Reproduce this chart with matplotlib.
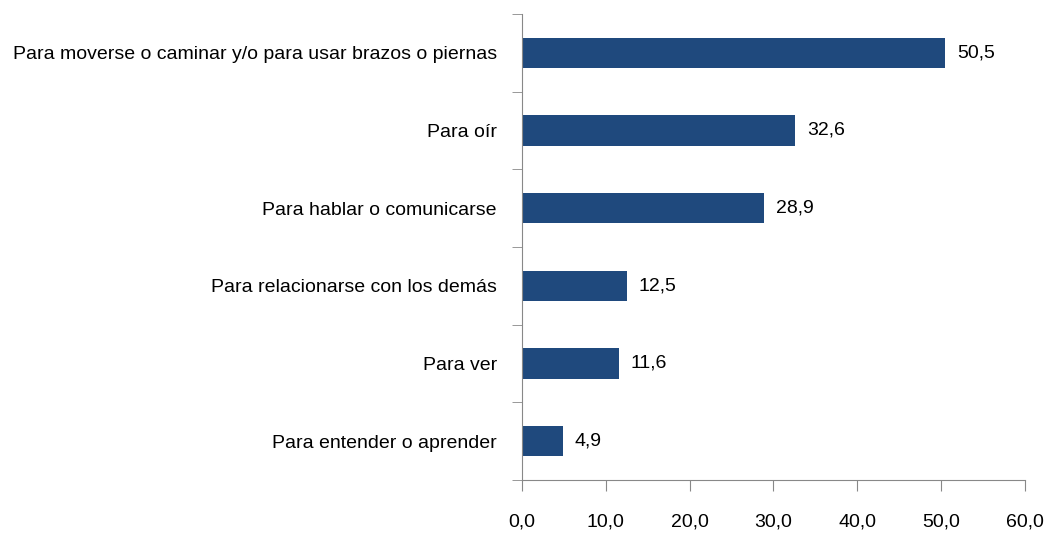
import numpy as np
import matplotlib.pyplot as plt

plt.rcParams['font.family'] = ['Liberation Sans', 'DejaVu Sans']

categorias = ['Para moverse o caminar y/o para usar brazos o piernas',
              'Para oír',
              'Para hablar o comunicarse',
              'Para relacionarse con los demás',
              'Para ver',
              'Para entender o aprender']
valores = [50.5, 32.6, 28.9, 12.5, 11.6, 4.9]
ticks_x = [0, 10, 20, 30, 40, 50, 60]

fig = plt.figure(figsize=(10.48, 5.36), dpi=100)
ax = fig.add_axes([0.498, 0.1045, 0.48, 0.8695])

y = np.arange(len(categorias))[::-1]
ax.barh(y, valores, height=0.39, color='#1F497D')

for yi, v in zip(y, valores):
    ax.text(v + 1.4, yi, f'{v:.1f}'.replace('.', ','), va='center', ha='left',
            fontsize=14, color='black')

ax.set_xlim(0, 60)
ax.set_ylim(-0.5, len(categorias) - 0.5)
ax.set_xticks(ticks_x)
ax.set_xticklabels([f'{t:.1f}'.replace('.', ',') for t in ticks_x])
ax.set_yticks(y)
ax.set_yticklabels(categorias)
ax.set_yticks(np.arange(-0.5, len(categorias), 1), minor=True)

for s in ['top', 'right']:
    ax.spines[s].set_visible(False)
for s in ['left', 'bottom']:
    ax.spines[s].set_color('#888888')

ax.tick_params(axis='y', which='major', length=0, pad=18, labelsize=14)
ax.tick_params(axis='y', which='minor', length=7, color='#888888')
ax.tick_params(axis='x', which='major', length=8, color='#888888', pad=16, labelsize=14)

fig.savefig('out.png', dpi=100)
